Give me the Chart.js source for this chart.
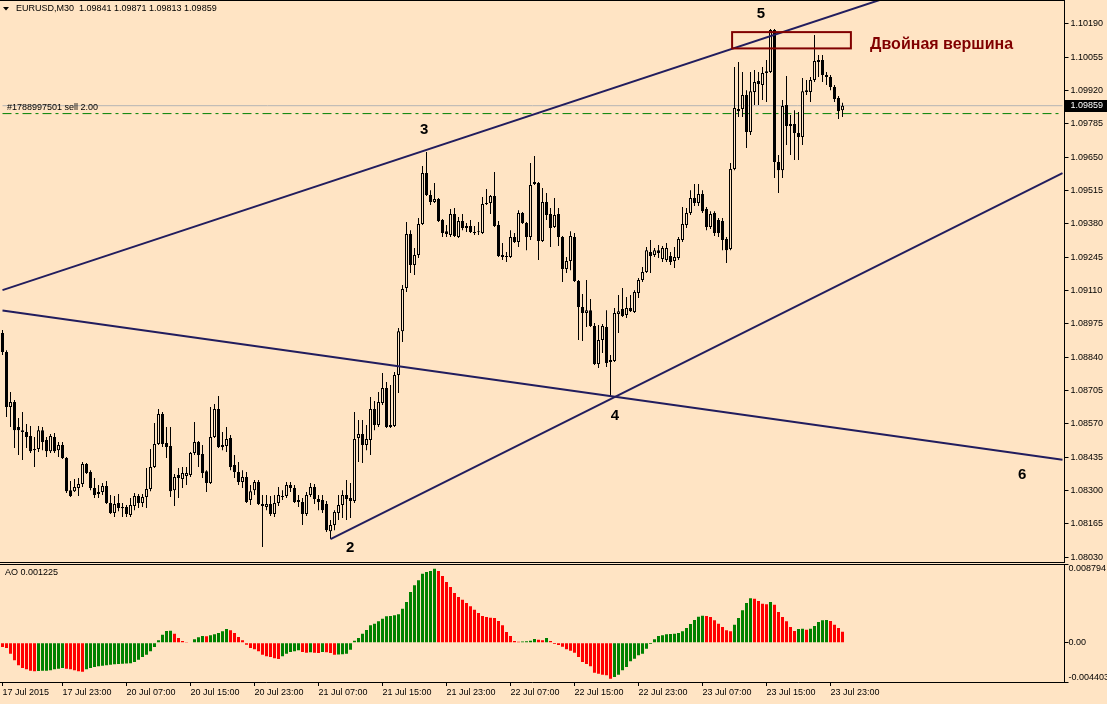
<!DOCTYPE html>
<html>
<head>
<meta charset="utf-8">
<script src="https://cdn.jsdelivr.net/npm/chart.js@4.4.1/dist/chart.umd.min.js"></script>
<style>
html, body { margin: 0; padding: 0; background: #FFE4C4; }
#wrap { position: relative; width: 1107px; height: 704px; overflow: hidden; }
#main { position: absolute; left: 0; top: 0; }
#ao { position: absolute; left: 0; top: 563px; }
</style>
</head>
<body>
<div id="wrap">
<canvas id="main" width="1107" height="563"></canvas>
<canvas id="ao" width="1107" height="141"></canvas>
</div>
<script>
// EURUSD M30, one value per bar (17 Jul 15:30 ... 24 Jul 00:30)
const open = [
  1.08938,1.08861,1.08639,1.08659,1.08558,1.08545,1.08537,1.08521,1.08469,1.08469,
  1.08545,1.08505,1.08460,1.08517,1.08464,1.08485,1.08432,1.08302,1.08298,1.08311,
  1.08327,1.08408,1.08375,1.08311,1.08286,1.08294,1.08319,1.08250,1.08209,1.08250,
  1.08234,1.08234,1.08201,1.08238,1.08278,1.08250,1.08274,1.08307,1.08396,1.08489,
  1.08610,1.08493,1.08481,1.08302,1.08363,1.08347,1.08359,1.08363,1.08452,1.08497,
  1.08448,1.08379,1.08331,1.08517,1.08631,1.08485,1.08481,1.08513,1.08404,1.08375,
  1.08335,1.08355,1.08262,1.08302,1.08335,1.08246,1.08234,1.08246,1.08205,1.08250,
  1.08274,1.08278,1.08323,1.08311,1.08262,1.08254,1.08205,1.08282,1.08315,1.08266,
  1.08262,1.08246,1.08136,1.08161,1.08209,1.08242,1.08282,1.08270,1.08258,1.08513,
  1.08529,1.08485,1.08505,1.08631,1.08566,1.08655,1.08716,1.08566,1.08562,1.08768,
  1.08946,1.09121,1.09339,1.09214,1.09254,1.09380,1.09586,1.09497,1.09469,1.09481,
  1.09396,1.09351,1.09335,1.09420,1.09327,1.09392,1.09364,1.09372,1.09347,1.09351,
  1.09343,1.09465,1.09465,1.09493,1.09376,1.09254,1.09250,1.09246,1.09327,1.09307,
  1.09424,1.09384,1.09327,1.09542,1.09546,1.09311,1.09469,1.09420,1.09368,1.09420,
  1.09327,1.09198,1.09230,1.09327,1.09149,1.09044,1.09019,1.09031,1.08967,1.08813,
  1.08910,1.08963,1.08829,1.08825,1.09015,1.09036,1.09011,1.09040,1.09023,1.09100,
  1.09153,1.09185,1.09266,1.09254,1.09274,1.09238,1.09234,1.09250,1.09230,1.09242,
  1.09315,1.09376,1.09424,1.09485,1.09465,1.09501,1.09441,1.09368,1.09424,1.09396,
  1.09392,1.09319,1.09279,1.09603,1.09846,1.09846,1.09902,1.09752,1.09914,1.09959,
  1.09943,1.09991,1.09995,1.10166,1.09631,1.09598,1.09862,1.09785,1.09785,1.09748,
  1.09732,1.09914,1.09914,1.09963,1.10044,1.10044,1.09983,1.09975,1.09935,1.09890,
  1.09841
];
const high = [
  1.08951,1.08869,1.08699,1.08667,1.08594,1.08618,1.08570,1.08562,1.08517,1.08562,
  1.08558,1.08517,1.08529,1.08533,1.08497,1.08497,1.08436,1.08339,1.08347,1.08351,
  1.08416,1.08412,1.08383,1.08351,1.08323,1.08331,1.08339,1.08282,1.08278,1.08286,
  1.08250,1.08242,1.08270,1.08290,1.08286,1.08286,1.08392,1.08469,1.08574,1.08631,
  1.08618,1.08558,1.08558,1.08367,1.08392,1.08396,1.08396,1.08456,1.08578,1.08501,
  1.08485,1.08383,1.08639,1.08651,1.08683,1.08537,1.08558,1.08525,1.08444,1.08416,
  1.08383,1.08375,1.08323,1.08343,1.08343,1.08282,1.08282,1.08278,1.08282,1.08315,
  1.08302,1.08335,1.08335,1.08323,1.08282,1.08270,1.08294,1.08331,1.08327,1.08282,
  1.08282,1.08258,1.08181,1.08221,1.08282,1.08302,1.08343,1.08331,1.08618,1.08586,
  1.08586,1.08566,1.08679,1.08663,1.08699,1.08776,1.08740,1.08728,1.08780,1.08959,
  1.09133,1.09388,1.09355,1.09283,1.09404,1.09615,1.09671,1.09517,1.09546,1.09485,
  1.09400,1.09376,1.09441,1.09445,1.09408,1.09420,1.09384,1.09396,1.09372,1.09388,
  1.09489,1.09522,1.09497,1.09590,1.09392,1.09303,1.09266,1.09355,1.09343,1.09436,
  1.09428,1.09388,1.09627,1.09655,1.09550,1.09526,1.09505,1.09445,1.09485,1.09445,
  1.09331,1.09246,1.09351,1.09343,1.09153,1.09096,1.09153,1.09076,1.08979,1.08971,
  1.08975,1.09031,1.08849,1.09040,1.09092,1.09121,1.09084,1.09092,1.09112,1.09161,
  1.09206,1.09287,1.09315,1.09283,1.09295,1.09291,1.09303,1.09266,1.09287,1.09327,
  1.09449,1.09445,1.09517,1.09542,1.09542,1.09517,1.09449,1.09432,1.09432,1.09404,
  1.09404,1.09327,1.09627,1.10016,1.10036,1.09995,1.09922,1.09995,1.10004,1.09995,
  1.10016,1.10044,1.10170,1.10170,1.09659,1.09882,1.09979,1.09821,1.09841,1.09833,
  1.09971,1.09963,1.09975,1.10145,1.10064,1.10064,1.09995,1.09983,1.09943,1.09898,
  1.09871
];
const low = [
  1.08849,1.08598,1.08558,1.08473,1.08444,1.08424,1.08473,1.08452,1.08396,1.08456,
  1.08464,1.08436,1.08452,1.08452,1.08436,1.08428,1.08290,1.08274,1.08294,1.08278,
  1.08315,1.08367,1.08302,1.08270,1.08270,1.08282,1.08246,1.08205,1.08193,1.08217,
  1.08193,1.08193,1.08193,1.08221,1.08230,1.08234,1.08230,1.08298,1.08392,1.08485,
  1.08477,1.08432,1.08274,1.08238,1.08270,1.08311,1.08323,1.08355,1.08444,1.08396,
  1.08351,1.08294,1.08327,1.08513,1.08473,1.08464,1.08456,1.08383,1.08351,1.08323,
  1.08311,1.08250,1.08242,1.08282,1.08242,1.08072,1.08221,1.08197,1.08193,1.08238,
  1.08262,1.08270,1.08294,1.08250,1.08234,1.08161,1.08197,1.08274,1.08246,1.08221,
  1.08209,1.08132,1.08104,1.08140,1.08181,1.08189,1.08181,1.08189,1.08250,1.08416,
  1.08412,1.08464,1.08444,1.08545,1.08558,1.08647,1.08554,1.08554,1.08558,1.08695,
  1.08902,1.09104,1.09181,1.09173,1.09242,1.09376,1.09493,1.09457,1.09465,1.09388,
  1.09327,1.09327,1.09327,1.09327,1.09323,1.09355,1.09347,1.09343,1.09335,1.09335,
  1.09339,1.09457,1.09420,1.09368,1.09246,1.09234,1.09226,1.09242,1.09303,1.09287,
  1.09380,1.09274,1.09315,1.09538,1.09234,1.09307,1.09396,1.09287,1.09364,1.09291,
  1.09145,1.09181,1.09193,1.09145,1.08910,1.08906,1.08963,1.08963,1.08809,1.08797,
  1.08857,1.08801,1.08679,1.08821,1.08938,1.09003,1.08999,1.09023,1.09019,1.09080,
  1.09145,1.09181,1.09181,1.09246,1.09242,1.09226,1.09226,1.09214,1.09202,1.09234,
  1.09307,1.09364,1.09416,1.09453,1.09453,1.09424,1.09355,1.09360,1.09331,1.09327,
  1.09274,1.09222,1.09274,1.09598,1.09813,1.09813,1.09688,1.09740,1.09862,1.09862,
  1.09882,1.09874,1.09991,1.09566,1.09505,1.09566,1.09700,1.09659,1.09639,1.09639,
  1.09700,1.09902,1.09874,1.09955,1.09975,1.09955,1.09943,1.09922,1.09874,1.09805,
  1.09813
];
const close = [
  1.08861,1.08639,1.08659,1.08545,1.08545,1.08537,1.08517,1.08460,1.08464,1.08545,
  1.08497,1.08460,1.08521,1.08460,1.08485,1.08432,1.08298,1.08278,1.08315,1.08327,
  1.08408,1.08371,1.08311,1.08282,1.08294,1.08319,1.08250,1.08209,1.08246,1.08230,
  1.08229,1.08205,1.08242,1.08278,1.08250,1.08274,1.08307,1.08396,1.08489,1.08610,
  1.08489,1.08477,1.08298,1.08355,1.08351,1.08371,1.08371,1.08452,1.08497,1.08444,
  1.08371,1.08331,1.08517,1.08631,1.08477,1.08477,1.08509,1.08396,1.08375,1.08335,
  1.08355,1.08254,1.08298,1.08335,1.08246,1.08238,1.08246,1.08205,1.08250,1.08282,
  1.08278,1.08323,1.08311,1.08254,1.08254,1.08205,1.08282,1.08315,1.08266,1.08254,
  1.08221,1.08140,1.08161,1.08213,1.08242,1.08282,1.08266,1.08258,1.08509,1.08529,
  1.08485,1.08509,1.08631,1.08566,1.08659,1.08716,1.08558,1.08558,1.08768,1.08946,
  1.09117,1.09339,1.09214,1.09254,1.09380,1.09586,1.09497,1.09469,1.09481,1.09392,
  1.09343,1.09339,1.09420,1.09331,1.09392,1.09364,1.09372,1.09347,1.09343,1.09347,
  1.09461,1.09461,1.09493,1.09372,1.09250,1.09246,1.09246,1.09327,1.09307,1.09424,
  1.09384,1.09327,1.09538,1.09550,1.09311,1.09469,1.09416,1.09364,1.09416,1.09327,
  1.09198,1.09230,1.09331,1.09149,1.09044,1.09019,1.09031,1.08967,1.08813,1.08910,
  1.08967,1.08817,1.08821,1.09019,1.09027,1.09007,1.09040,1.09027,1.09104,1.09153,
  1.09185,1.09274,1.09250,1.09274,1.09262,1.09283,1.09283,1.09226,1.09246,1.09319,
  1.09380,1.09424,1.09485,1.09465,1.09501,1.09432,1.09368,1.09420,1.09343,1.09343,
  1.09315,1.09274,1.09603,1.09850,1.09837,1.09902,1.09752,1.09918,1.09955,1.09947,
  1.09991,1.09999,1.10166,1.09631,1.09598,1.09858,1.09777,1.09777,1.09748,1.09732,
  1.09918,1.09922,1.09963,1.10040,1.10036,1.09983,1.09975,1.09935,1.09886,1.09837,
  1.09859
];
// Awesome Oscillator, same bars
const ao = [
  -0.000492,-0.000604,-0.001238,-0.001983,-0.002542,-0.002841,-0.002990,-0.003139,-0.003214,-0.003176,
  -0.003158,-0.003139,-0.003101,-0.002990,-0.002915,-0.002841,-0.002915,-0.002990,-0.003101,-0.003214,
  -0.003251,-0.002990,-0.002841,-0.002729,-0.002654,-0.002580,-0.002542,-0.002468,-0.002431,-0.002393,
  -0.002356,-0.002337,-0.002319,-0.002170,-0.001909,-0.001610,-0.001350,-0.000977,-0.000492,0.000254,
  0.000887,0.001297,0.001335,0.000999,0.000514,0.000179,0.000067,-0.000082,0.000365,0.000589,
  0.000738,0.000701,0.000813,0.000925,0.001074,0.001260,0.001521,0.001372,0.001074,0.000626,
  0.000254,-0.000231,-0.000604,-0.000753,-0.000977,-0.001350,-0.001536,-0.001610,-0.001760,-0.001834,
  -0.001536,-0.001238,-0.001051,-0.000977,-0.000865,-0.001051,-0.001126,-0.001089,-0.001126,-0.001163,
  -0.001051,-0.001089,-0.001163,-0.001350,-0.001331,-0.001312,-0.001238,-0.000790,0.000216,0.000514,
  0.000999,0.001409,0.001931,0.002118,0.002379,0.002677,0.002938,0.002975,0.003050,0.003161,
  0.003795,0.004541,0.005659,0.006405,0.006964,0.007710,0.007896,0.008008,0.008269,0.008008,
  0.007449,0.006778,0.006218,0.005547,0.005100,0.004802,0.004429,0.004056,0.003683,0.003310,
  0.002975,0.002863,0.002789,0.002751,0.002416,0.001931,0.001186,0.000738,0.000179,0.000104,
  0.000123,0.000142,0.000216,0.000403,0.000328,0.000254,0.000514,0.000179,-0.000157,-0.000268,
  -0.000455,-0.000753,-0.000902,-0.001126,-0.001610,-0.002170,-0.002393,-0.002654,-0.003363,-0.003474,
  -0.003586,-0.003661,-0.004034,-0.003847,-0.003586,-0.003102,-0.002729,-0.002095,-0.001797,-0.001424,
  -0.001238,-0.000679,-0.000157,0.000365,0.000738,0.000813,0.000925,0.000962,0.000980,0.001074,
  0.001260,0.001633,0.002080,0.002528,0.002900,0.003012,0.002975,0.002863,0.002490,0.002118,
  0.001745,0.001372,0.001260,0.002006,0.002751,0.003609,0.004429,0.004951,0.004914,0.004653,
  0.004354,0.004280,0.004541,0.004242,0.003422,0.002863,0.002379,0.001745,0.001297,0.001521,
  0.001558,0.001446,0.001558,0.001857,0.002304,0.002490,0.002528,0.002416,0.002006,0.001633,
  0.001225
];

const priceTicks = [1.10190, 1.10055, 1.09920, 1.09785, 1.09650, 1.09515, 1.09380, 1.09245, 1.09110,
  1.08975, 1.08840, 1.08705, 1.08570, 1.08435, 1.08300, 1.08165, 1.08030];
const aoTicks = [0.008794, 0, -0.004403];
const aoTickLabels = ['0.008794', '0.00', '-0.004403'];
const timeTickLabels = ['17 Jul 2015', '17 Jul 23:00', '20 Jul 07:00', '20 Jul 15:00', '20 Jul 23:00',
  '21 Jul 07:00', '21 Jul 15:00', '21 Jul 23:00', '22 Jul 07:00', '22 Jul 15:00', '22 Jul 23:00',
  '23 Jul 07:00', '23 Jul 15:00', '23 Jul 23:00'];
const timeTickBars = [0, 15, 31, 47, 63, 79, 95, 111, 127, 143, 159, 175, 191, 207];

const headerText = 'EURUSD,M30  1.09841 1.09871 1.09813 1.09859';
const orderText = '#1788997501 sell 2.00';
const aoText = 'AO 0.001225';
const bidPrice = 1.09859;
const orderPrice = 1.09827;

// trend lines: [bar from, price from, bar to, price to]
const upperLine = [0, 1.09112, 265, 1.10532];
const lowerLine = [82, 1.08104, 265, 1.09586];
const fallLine = [0, 1.09030, 265, 1.08425];

const waveLabels = ['2', '3', '4', '5', '6'];
const waveBars = [86.9, 105.4, 153.1, 189.6, 254.9];
const wavePrices = [1.08068, 1.09761, 1.08602, 1.10230, 1.08363];

const boxBars = [182.4, 212.1];
const boxPrices = [1.10157, 1.10091];
const boxText = 'Двойная вершина';
const boxTextAt = [216.9, 1.10105];

// 211 bars + empty room on the right, 4 px per bar
const slots = 266;
const labels = Array.from({ length: slots }, (_, i) => i);

const BG = '#FFE4C4';
const NAVY = '#221D5E';
const MAROON = '#800000';
const GREEN = '#008000';
const RED = '#FF0000';
const FONT = '"Liberation Sans", Arial, sans-serif';

Chart.defaults.font.family = FONT;
Chart.defaults.font.size = 9;
Chart.defaults.color = '#000';

function trend(line) {
  return {
    type: 'line',
    data: [{ x: line[0], y: line[1] }, { x: line[2], y: line[3] }],
    borderColor: NAVY, borderWidth: 2, pointRadius: 0, tension: 0, order: -1
  };
}

// no extra room for the end labels, the panes are fixed
function noPad(s) {
  s.paddingTop = 0; s.paddingBottom = 0; s.paddingLeft = 0; s.paddingRight = 0;
}

const mainOverlay = {
  id: 'mainOverlay',
  afterDraw(chart) {
    const ctx = chart.ctx, xs = chart.scales.x, ys = chart.scales.y, area = chart.chartArea;
    ctx.save();
    ctx.fillStyle = '#000';
    ctx.fillRect(0, 0, 1065, 1);
    ctx.fillRect(0, Math.round(area.bottom), 1065, 1);

    // header
    ctx.beginPath();
    ctx.moveTo(3, 7); ctx.lineTo(9, 7); ctx.lineTo(6, 10.5); ctx.closePath(); ctx.fill();
    ctx.font = '9px ' + FONT;
    ctx.textBaseline = 'middle';
    ctx.textAlign = 'left';
    ctx.fillText(headerText, 16, 9);
    ctx.fillText(orderText, 7, ys.getPixelForValue(orderPrice) - 6);

    // wave numbers
    ctx.font = 'bold 15px ' + FONT;
    ctx.textAlign = 'center';
    waveLabels.forEach((t, i) => {
      ctx.fillText(t, xs.getPixelForValue(waveBars[i]), ys.getPixelForValue(wavePrices[i]));
    });

    // double top box
    const bx1 = xs.getPixelForValue(boxBars[0]), bx2 = xs.getPixelForValue(boxBars[1]);
    const by1 = ys.getPixelForValue(boxPrices[0]), by2 = ys.getPixelForValue(boxPrices[1]);
    ctx.strokeStyle = MAROON;
    ctx.lineWidth = 2;
    ctx.strokeRect(bx1, by1, bx2 - bx1, by2 - by1);
    ctx.fillStyle = MAROON;
    ctx.font = 'bold 16px ' + FONT;
    ctx.textAlign = 'left';
    ctx.fillText(boxText, xs.getPixelForValue(boxTextAt[0]), ys.getPixelForValue(boxTextAt[1]));

    // current price on the axis
    const yb = Math.round(ys.getPixelForValue(bidPrice));
    ctx.fillStyle = '#000';
    ctx.fillRect(1065, yb - 6, 42, 12);
    ctx.fillStyle = '#fff';
    ctx.font = '9px ' + FONT;
    ctx.fillText(bidPrice.toFixed(5), 1070.5, yb);
    ctx.restore();
  }
};

new Chart(document.getElementById('main'), {
  type: 'bar',
  data: {
    labels: labels,
    datasets: [
      {
        data: open.map((o, i) => [o, close[i]]),
        backgroundColor: open.map((o, i) => close[i] >= o ? BG : '#000'),
        borderColor: '#000', borderWidth: 1, borderSkipped: false,
        barThickness: 3, grouped: false, inflateAmount: 0, order: 0
      },
      {
        data: low.map((l, i) => [l, high[i]]),
        backgroundColor: '#000', borderWidth: 0,
        barThickness: 1, grouped: false, inflateAmount: 0, order: 1
      },
      {
        type: 'line',
        data: [{ x: 0, y: bidPrice }, { x: slots - 1, y: bidPrice }],
        borderColor: '#B4B4B4', borderWidth: 1, pointRadius: 0, order: 3
      },
      {
        type: 'line',
        data: [{ x: 0, y: orderPrice }, { x: slots - 1, y: orderPrice }],
        borderColor: GREEN, borderWidth: 1, borderDash: [9, 4, 3, 4], pointRadius: 0, order: 3
      },
      trend(upperLine),
      trend(lowerLine),
      trend(fallLine)
    ]
  },
  options: {
    responsive: false,
    animation: false,
    events: [],
    layout: { padding: { top: 1, left: 0.5, right: 0, bottom: 1 } },
    plugins: { legend: { display: false }, tooltip: { enabled: false } },
    scales: {
      x: { display: false, offset: true },
      y: {
        position: 'right',
        min: 1.08011,
        max: 1.10283,
        afterBuildTicks: s => { s.ticks = priceTicks.map(v => ({ value: v })); },
        afterFit: s => { s.width = 42.5; noPad(s); },
        ticks: { callback: v => Number(v).toFixed(5), padding: 2, font: { size: 9 } },
        grid: { drawOnChartArea: false, drawTicks: true, tickLength: 4, color: '#000' },
        border: { display: true, color: '#000', width: 1 }
      }
    }
  },
  plugins: [mainOverlay]
});

const aoOverlay = {
  id: 'aoOverlay',
  afterDraw(chart) {
    const ctx = chart.ctx;
    ctx.save();
    ctx.fillStyle = '#000';
    ctx.fillRect(0, 1, 1065, 1);
    ctx.font = '9px ' + FONT;
    ctx.textBaseline = 'middle';
    ctx.textAlign = 'left';
    ctx.fillText(aoText, 5, 9.5);
    ctx.restore();
  }
};

new Chart(document.getElementById('ao'), {
  type: 'bar',
  data: {
    labels: labels,
    datasets: [{
      data: ao,
      backgroundColor: ao.map((v, i) => (i > 0 && v > ao[i - 1]) ? GREEN : RED),
      borderWidth: 0, barThickness: 3, inflateAmount: 0
    }]
  },
  options: {
    responsive: false,
    animation: false,
    events: [],
    layout: { padding: { top: 1, left: 0.5, right: 0, bottom: 0 } },
    plugins: { legend: { display: false }, tooltip: { enabled: false } },
    scales: {
      x: {
        offset: true,
        afterFit: s => { s.height = 22; noPad(s); },
        ticks: {
          autoSkip: false, maxRotation: 0, minRotation: 0, align: 'start', padding: 1,
          font: { size: 9 },
          callback: (v, i) => {
            const k = timeTickBars.indexOf(i);
            return k >= 0 ? timeTickLabels[k] : '';
          }
        },
        grid: {
          offset: false, drawOnChartArea: false, drawTicks: true, tickLength: 4,
          color: c => timeTickBars.includes(c.index) ? '#000' : 'rgba(0,0,0,0)'
        },
        border: { display: true, color: '#000', width: 1 }
      },
      y: {
        position: 'right',
        min: -0.004403,
        max: 0.008794,
        afterBuildTicks: s => { s.ticks = aoTicks.map(v => ({ value: v })); },
        afterFit: s => { s.width = 42.5; noPad(s); },
        ticks: {
          padding: 0,
          font: { size: 9, lineHeight: '9px' },
          callback: (v, i) => i === 0 ? ['', aoTickLabels[0]] : (i === 2 ? [aoTickLabels[2], ''] : aoTickLabels[1])
        },
        grid: { drawOnChartArea: false, drawTicks: true, tickLength: 4, color: '#000' },
        border: { display: true, color: '#000', width: 1 }
      }
    }
  },
  plugins: [aoOverlay]
});
</script>
</body>
</html>
